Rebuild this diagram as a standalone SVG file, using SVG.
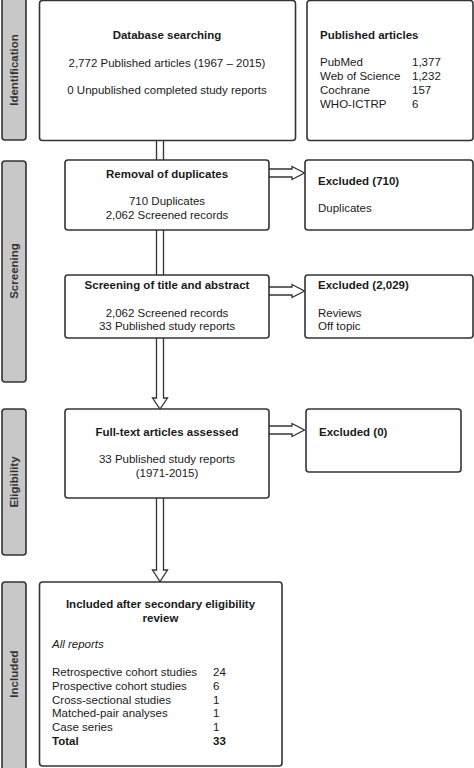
<svg xmlns="http://www.w3.org/2000/svg" width="474" height="768" viewBox="0 0 474 768">
<style>
  .box { fill: #ffffff; stroke: #333333; stroke-width: 1.6; }
  .side { fill: #c8c8c8; stroke: #333333; stroke-width: 1.6; }
  .arrow { fill: #ffffff; stroke: #333333; stroke-width: 1.3; stroke-linejoin: miter; }
  text { font-family: "Liberation Sans", Arial, sans-serif; font-size: 11.5px; fill: #1a1a1a; }
  .b { font-weight: bold; }
  .c { text-anchor: middle; }
  .i { font-style: italic; }
  .lab { font-weight: bold; fill: #333333; text-anchor: middle; }
</style>
<rect width="474" height="768" fill="#ffffff"/>

<g id="phases">
  <g id="phase-identification">
    <rect class="side" x="2" y="-4" width="24" height="144" rx="3"/>
    <text class="lab" transform="translate(17.5,70) rotate(-90)">Identification</text>
  </g>
  <g id="phase-screening">
    <rect class="side" x="2" y="161" width="24" height="221" rx="3"/>
    <text class="lab" transform="translate(17.5,271) rotate(-90)">Screening</text>
  </g>
  <g id="phase-eligibility">
    <rect class="side" x="2" y="409" width="24" height="146" rx="3"/>
    <text class="lab" transform="translate(17.5,482) rotate(-90)">Eligibility</text>
  </g>
  <g id="phase-included">
    <rect class="side" x="2" y="582" width="24" height="190" rx="3"/>
    <text class="lab" transform="translate(17.5,674) rotate(-90)">Included</text>
  </g>
</g>

<g id="connectors">
  <path class="arrow" d="M156.5,140 V160 M163.5,140 V160"/>
  <path class="arrow" d="M156.5,230 V275 M163.5,230 V275"/>
  <path class="arrow" d="M156.5,338 V398 H152.5 L160,409 L167.5,398 H163.5 V338"/>
  <path class="arrow" d="M156.5,498 V570 H152.5 L160,581.5 L167.5,570 H163.5 V498"/>
  <path class="arrow" d="M269,169 H292 V166.5 L304.5,173 L292,179.5 V177 H269"/>
  <path class="arrow" d="M269,287 H292 V284.5 L304.5,291 L292,297.5 V295 H269"/>
  <path class="arrow" d="M269,426 H292 V423.5 L304.5,430 L292,436.5 V434 H269"/>
</g>

<g id="database-searching">
  <rect class="box" x="39.5" y="0.5" width="256" height="140" rx="3"/>
  <text class="b c" x="167" y="39">Database searching</text>
  <text class="c" x="167" y="66.5">2,772 Published articles (1967 – 2015)</text>
  <text class="c" x="167" y="94">0 Unpublished completed study reports</text>
</g>

<g id="published-articles">
  <rect class="box" x="307" y="0.5" width="166" height="140" rx="3"/>
  <text class="b" x="320" y="39">Published articles</text>
  <text x="320" y="66">PubMed</text><text x="412" y="66">1,377</text>
  <text x="320" y="80">Web of Science</text><text x="412" y="80">1,232</text>
  <text x="320" y="94">Cochrane</text><text x="412" y="94">157</text>
  <text x="320" y="108">WHO-ICTRP</text><text x="412" y="108">6</text>
</g>

<g id="removal-duplicates">
  <rect class="box" x="65" y="160" width="204" height="70" rx="3"/>
  <text class="b c" x="167" y="178">Removal of duplicates</text>
  <text class="c" x="167" y="205">710 Duplicates</text>
  <text class="c" x="167" y="218.5">2,062 Screened records</text>
</g>

<g id="excluded-710">
  <rect class="box" x="305" y="160" width="168" height="70" rx="3"/>
  <text class="b" x="318" y="185">Excluded (710)</text>
  <text x="318" y="212">Duplicates</text>
</g>

<g id="screening-title-abstract">
  <rect class="box" x="65" y="275" width="204" height="63" rx="3"/>
  <text class="b c" x="167" y="289">Screening of title and abstract</text>
  <text class="c" x="167" y="316.5">2,062 Screened records</text>
  <text class="c" x="167" y="330">33 Published study reports</text>
</g>

<g id="excluded-2029">
  <rect class="box" x="305" y="275" width="168" height="63" rx="3"/>
  <text class="b" x="318" y="289">Excluded (2,029)</text>
  <text x="318" y="316.5">Reviews</text>
  <text x="318" y="330">Off topic</text>
</g>

<g id="full-text">
  <rect class="box" x="65" y="409" width="204" height="89" rx="3"/>
  <text class="b c" x="167" y="436">Full-text articles assessed</text>
  <text class="c" x="167" y="463">33 Published study reports</text>
  <text class="c" x="167" y="477">(1971-2015)</text>
</g>

<g id="excluded-0">
  <rect class="box" x="306" y="409" width="155" height="63" rx="3"/>
  <text class="b" x="319" y="436">Excluded (0)</text>
</g>

<g id="included">
  <rect class="box" x="39.5" y="582" width="242.5" height="184" rx="3"/>
  <text class="b c" x="160.5" y="607.5">Included after secondary eligibility</text>
  <text class="b c" x="160.5" y="621.5">review</text>
  <text class="i" x="52" y="648">All reports</text>
  <text x="52" y="676">Retrospective cohort studies</text><text x="213" y="676">24</text>
  <text x="52" y="690">Prospective cohort studies</text><text x="213" y="690">6</text>
  <text x="52" y="703.5">Cross-sectional studies</text><text x="213" y="703.5">1</text>
  <text x="52" y="717">Matched-pair analyses</text><text x="213" y="717">1</text>
  <text x="52" y="731">Case series</text><text x="213" y="731">1</text>
  <text class="b" x="52" y="745">Total</text><text class="b" x="213" y="745">33</text>
</g>
</svg>
